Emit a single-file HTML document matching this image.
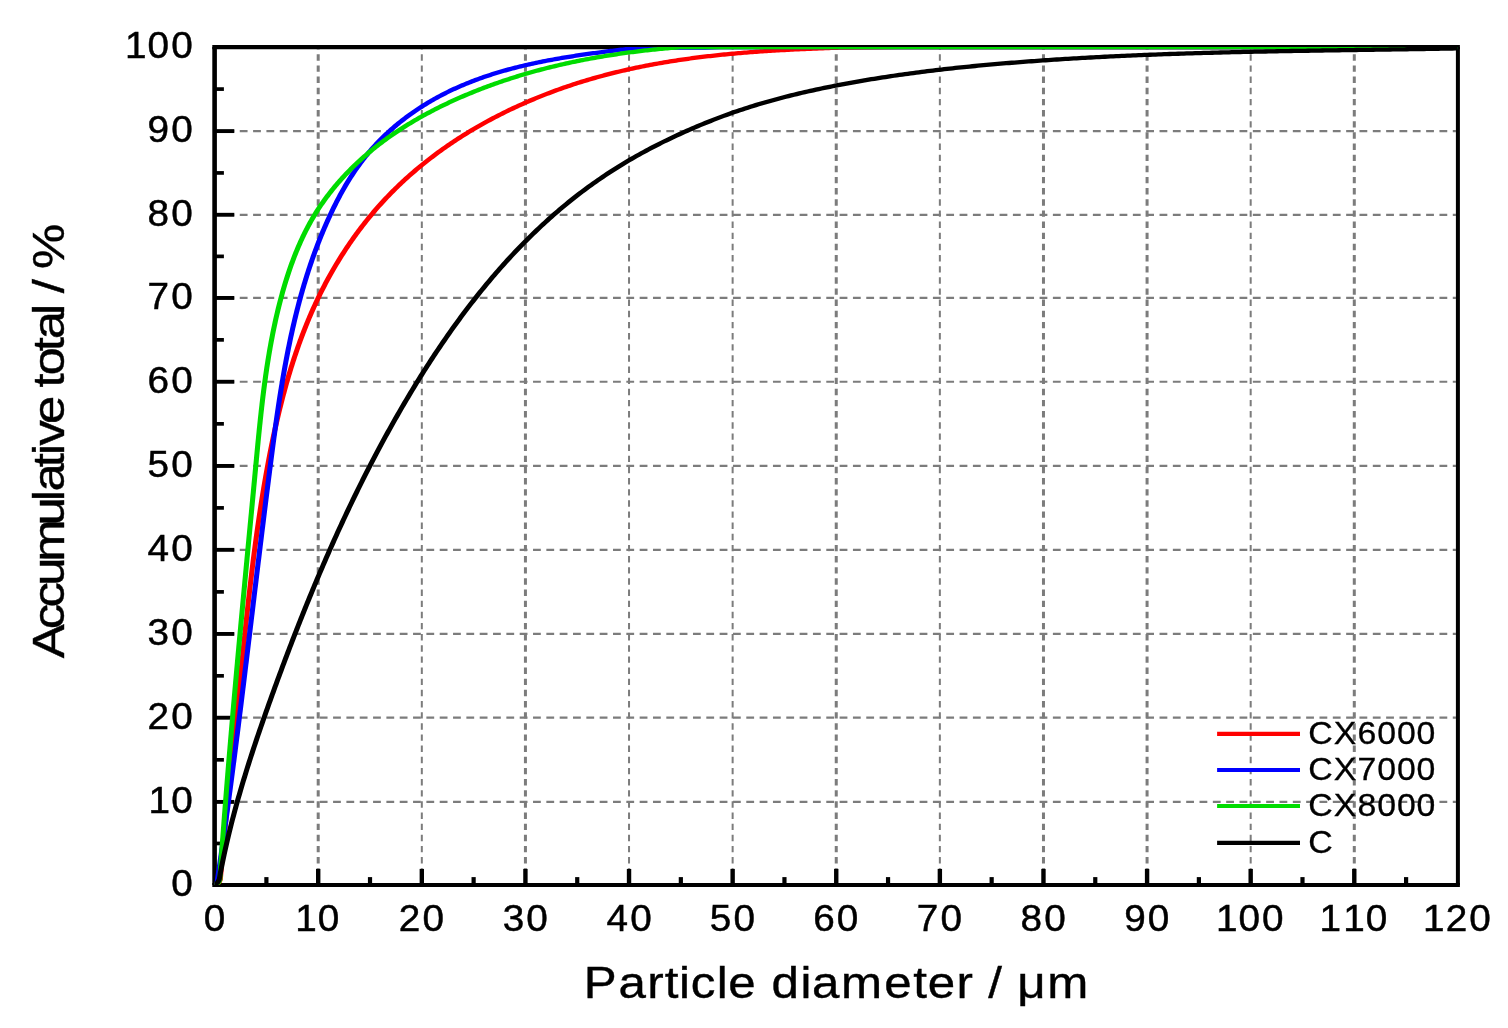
<!DOCTYPE html>
<html lang="en"><head><meta charset="utf-8"><title>Particle size distribution</title>
<style>
html,body{margin:0;padding:0;background:#fff;}
body{width:1508px;height:1028px;overflow:hidden;}
svg{display:block;}
text{font-family:"Liberation Sans","DejaVu Sans",sans-serif;fill:#000;}
</style></head><body>
<svg width="1508" height="1028" viewBox="0 0 1508 1028">
<rect x="0" y="0" width="1508" height="1028" fill="#fff"/>
<g stroke="#7c7c7c" fill="none">
<line x1="318.21" y1="885.80" x2="318.21" y2="47.10" stroke-width="3.0" stroke-dasharray="6.4 4.75"/>
<line x1="421.82" y1="885.80" x2="421.82" y2="47.10" stroke-width="2.0" stroke-dasharray="6.4 4.75"/>
<line x1="525.43" y1="885.80" x2="525.43" y2="47.10" stroke-width="3.0" stroke-dasharray="6.4 4.75"/>
<line x1="629.03" y1="885.80" x2="629.03" y2="47.10" stroke-width="2.0" stroke-dasharray="6.4 4.75"/>
<line x1="732.64" y1="885.80" x2="732.64" y2="47.10" stroke-width="2.0" stroke-dasharray="6.4 4.75"/>
<line x1="836.25" y1="885.80" x2="836.25" y2="47.10" stroke-width="3.0" stroke-dasharray="6.4 4.75"/>
<line x1="939.86" y1="885.80" x2="939.86" y2="47.10" stroke-width="2.0" stroke-dasharray="6.4 4.75"/>
<line x1="1043.47" y1="885.80" x2="1043.47" y2="47.10" stroke-width="3.0" stroke-dasharray="6.4 4.75"/>
<line x1="1147.08" y1="885.80" x2="1147.08" y2="47.10" stroke-width="3.0" stroke-dasharray="6.4 4.75"/>
<line x1="1250.68" y1="885.80" x2="1250.68" y2="47.10" stroke-width="2.0" stroke-dasharray="6.4 4.75"/>
<line x1="1354.29" y1="885.80" x2="1354.29" y2="47.10" stroke-width="3.0" stroke-dasharray="6.4 4.75"/>
<line x1="213.10" y1="801.91" x2="1455.90" y2="801.91" stroke-width="2.2" stroke-dasharray="7.8 5.53"/>
<line x1="213.10" y1="717.72" x2="1455.90" y2="717.72" stroke-width="2.2" stroke-dasharray="7.8 5.53"/>
<line x1="213.10" y1="633.93" x2="1455.90" y2="633.93" stroke-width="2.2" stroke-dasharray="7.8 5.53"/>
<line x1="213.10" y1="549.84" x2="1455.90" y2="549.84" stroke-width="2.2" stroke-dasharray="7.8 5.53"/>
<line x1="213.10" y1="465.95" x2="1455.90" y2="465.95" stroke-width="2.2" stroke-dasharray="7.8 5.53"/>
<line x1="213.10" y1="381.76" x2="1455.90" y2="381.76" stroke-width="2.2" stroke-dasharray="7.8 5.53"/>
<line x1="213.10" y1="297.97" x2="1455.90" y2="297.97" stroke-width="2.2" stroke-dasharray="7.8 5.53"/>
<line x1="213.10" y1="214.78" x2="1455.90" y2="214.78" stroke-width="2.2" stroke-dasharray="7.8 5.53"/>
<line x1="213.10" y1="131.09" x2="1455.90" y2="131.09" stroke-width="2.2" stroke-dasharray="7.8 5.53"/>
</g>
<g stroke="#000" fill="none" stroke-linecap="butt">
<line x1="212.30" y1="47.10" x2="1459.90" y2="47.10" stroke-width="4.20"/>
<line x1="212.30" y1="885.00" x2="1459.90" y2="885.00" stroke-width="4.20"/>
<line x1="214.60" y1="47.10" x2="214.60" y2="885.00" stroke-width="4.60"/>
<line x1="1457.90" y1="47.10" x2="1457.90" y2="885.00" stroke-width="4.00"/>
<line x1="266.40" y1="885.00" x2="266.40" y2="877.10" stroke-width="4.20"/>
<line x1="318.21" y1="885.00" x2="318.21" y2="868.90" stroke-width="4.40"/>
<line x1="370.01" y1="885.00" x2="370.01" y2="877.10" stroke-width="4.20"/>
<line x1="421.82" y1="885.00" x2="421.82" y2="868.90" stroke-width="4.40"/>
<line x1="473.62" y1="885.00" x2="473.62" y2="877.10" stroke-width="4.20"/>
<line x1="525.43" y1="885.00" x2="525.43" y2="868.90" stroke-width="4.40"/>
<line x1="577.23" y1="885.00" x2="577.23" y2="877.10" stroke-width="4.20"/>
<line x1="629.03" y1="885.00" x2="629.03" y2="868.90" stroke-width="4.40"/>
<line x1="680.84" y1="885.00" x2="680.84" y2="877.10" stroke-width="4.20"/>
<line x1="732.64" y1="885.00" x2="732.64" y2="868.90" stroke-width="4.40"/>
<line x1="784.45" y1="885.00" x2="784.45" y2="877.10" stroke-width="4.20"/>
<line x1="836.25" y1="885.00" x2="836.25" y2="868.90" stroke-width="4.40"/>
<line x1="888.05" y1="885.00" x2="888.05" y2="877.10" stroke-width="4.20"/>
<line x1="939.86" y1="885.00" x2="939.86" y2="868.90" stroke-width="4.40"/>
<line x1="991.66" y1="885.00" x2="991.66" y2="877.10" stroke-width="4.20"/>
<line x1="1043.47" y1="885.00" x2="1043.47" y2="868.90" stroke-width="4.40"/>
<line x1="1095.27" y1="885.00" x2="1095.27" y2="877.10" stroke-width="4.20"/>
<line x1="1147.08" y1="885.00" x2="1147.08" y2="868.90" stroke-width="4.40"/>
<line x1="1198.88" y1="885.00" x2="1198.88" y2="877.10" stroke-width="4.20"/>
<line x1="1250.68" y1="885.00" x2="1250.68" y2="868.90" stroke-width="4.40"/>
<line x1="1302.49" y1="885.00" x2="1302.49" y2="877.10" stroke-width="4.20"/>
<line x1="1354.29" y1="885.00" x2="1354.29" y2="868.90" stroke-width="4.40"/>
<line x1="1406.10" y1="885.00" x2="1406.10" y2="877.10" stroke-width="4.20"/>
<line x1="214.60" y1="843.46" x2="223.90" y2="843.46" stroke-width="3.70"/>
<line x1="214.60" y1="801.91" x2="234.30" y2="801.91" stroke-width="3.90"/>
<line x1="214.60" y1="759.82" x2="223.90" y2="759.82" stroke-width="3.70"/>
<line x1="214.60" y1="717.72" x2="234.30" y2="717.72" stroke-width="3.90"/>
<line x1="214.60" y1="675.82" x2="223.90" y2="675.82" stroke-width="3.70"/>
<line x1="214.60" y1="633.93" x2="234.30" y2="633.93" stroke-width="3.90"/>
<line x1="214.60" y1="591.88" x2="223.90" y2="591.88" stroke-width="3.70"/>
<line x1="214.60" y1="549.84" x2="234.30" y2="549.84" stroke-width="3.90"/>
<line x1="214.60" y1="507.89" x2="223.90" y2="507.89" stroke-width="3.70"/>
<line x1="214.60" y1="465.95" x2="234.30" y2="465.95" stroke-width="3.90"/>
<line x1="214.60" y1="423.85" x2="223.90" y2="423.85" stroke-width="3.70"/>
<line x1="214.60" y1="381.76" x2="234.30" y2="381.76" stroke-width="3.90"/>
<line x1="214.60" y1="339.87" x2="223.90" y2="339.87" stroke-width="3.70"/>
<line x1="214.60" y1="297.97" x2="234.30" y2="297.97" stroke-width="3.90"/>
<line x1="214.60" y1="256.38" x2="223.90" y2="256.38" stroke-width="3.70"/>
<line x1="214.60" y1="214.78" x2="234.30" y2="214.78" stroke-width="3.90"/>
<line x1="214.60" y1="172.93" x2="223.90" y2="172.93" stroke-width="3.70"/>
<line x1="214.60" y1="131.09" x2="234.30" y2="131.09" stroke-width="3.90"/>
<line x1="214.60" y1="89.09" x2="223.90" y2="89.09" stroke-width="3.70"/>
</g>
<clipPath id="plotclip"><rect x="214.60" y="47.10" width="1243.30" height="837.90"/></clipPath>
<g clip-path="url(#plotclip)"><g transform="scale(1.180,1)" fill="none" stroke-width="4.3" stroke-linejoin="round" stroke-linecap="butt">
<path d="M181.86 885.00 L185.59 882.50 L186.69 879.50 L186.84 877.48 L186.99 875.46 L187.14 873.45 L187.29 871.43 L187.44 869.41 L187.59 867.40 L187.74 865.38 L187.89 863.36 L188.05 861.35 L188.20 859.33 L188.36 857.31 L188.51 855.30 L188.67 853.28 L188.83 851.27 L188.98 849.25 L189.14 847.24 L189.30 845.22 L189.46 843.21 L189.62 841.19 L189.78 839.18 L189.94 837.17 L190.11 835.15 L190.27 833.14 L190.43 831.13 L190.60 829.11 L190.76 827.10 L190.93 825.09 L191.09 823.07 L191.26 821.06 L191.42 819.05 L191.59 817.04 L191.76 815.03 L191.93 813.01 L192.10 811.00 L192.26 808.99 L192.43 806.98 L192.60 804.97 L192.77 802.96 L192.94 800.95 L193.12 798.94 L193.29 796.92 L193.46 794.91 L193.63 792.90 L193.80 790.89 L193.98 788.88 L194.15 786.87 L194.32 784.86 L194.50 782.86 L194.67 780.85 L194.84 778.84 L195.02 776.83 L195.19 774.82 L195.37 772.81 L195.54 770.80 L195.72 768.79 L195.89 766.78 L196.07 764.77 L196.25 762.77 L196.42 760.76 L196.60 758.75 L196.77 756.74 L196.95 754.73 L197.13 752.73 L197.30 750.72 L197.48 748.71 L197.66 746.70 L197.84 744.70 L198.01 742.69 L198.19 740.68 L198.37 738.68 L198.54 736.67 L198.72 734.66 L198.90 732.66 L199.08 730.65 L199.25 728.64 L199.43 726.64 L199.61 724.63 L199.78 722.62 L199.96 720.62 L200.14 718.61 L200.32 716.61 L200.49 714.60 L200.67 712.59 L200.85 710.59 L201.02 708.58 L201.20 706.58 L201.37 704.57 L201.55 702.57 L201.73 700.56 L201.90 698.55 L202.08 696.55 L202.25 694.54 L202.43 692.54 L202.60 690.53 L202.78 688.53 L202.95 686.52 L203.12 684.52 L203.30 682.51 L203.47 680.51 L203.65 678.50 L203.82 676.50 L203.99 674.49 L204.17 672.49 L204.34 670.49 L204.51 668.48 L204.69 666.48 L204.86 664.47 L205.03 662.47 L205.21 660.46 L205.38 658.46 L205.55 656.45 L205.73 654.45 L205.90 652.45 L206.08 650.44 L206.25 648.44 L206.43 646.43 L206.60 644.43 L206.78 642.43 L206.96 640.42 L207.13 638.42 L207.31 636.42 L207.49 634.41 L207.67 632.41 L207.84 630.41 L208.02 628.40 L208.20 626.40 L208.38 624.40 L208.56 622.39 L208.75 620.39 L208.93 618.39 L209.11 616.38 L209.30 614.38 L209.48 612.38 L209.67 610.38 L209.85 608.37 L210.04 606.37 L210.23 604.37 L210.41 602.37 L210.60 600.36 L210.79 598.36 L210.99 596.36 L211.18 594.36 L211.37 592.35 L211.57 590.35 L211.76 588.35 L211.96 586.35 L212.16 584.35 L212.35 582.34 L212.55 580.34 L212.76 578.34 L212.96 576.34 L213.16 574.34 L213.37 572.34 L213.57 570.33 L213.78 568.33 L213.99 566.33 L214.20 564.33 L214.41 562.33 L214.62 560.33 L214.84 558.33 L215.06 556.33 L215.27 554.33 L215.49 552.33 L215.71 550.32 L215.94 548.32 L216.16 546.32 L216.38 544.32 L216.61 542.32 L216.84 540.32 L217.07 538.32 L217.30 536.32 L217.54 534.32 L217.77 532.32 L218.01 530.32 L218.25 528.32 L218.49 526.32 L218.74 524.32 L218.98 522.32 L219.23 520.32 L219.48 518.32 L219.73 516.33 L219.98 514.33 L220.24 512.33 L220.49 510.33 L220.75 508.33 L221.02 506.33 L221.28 504.33 L221.54 502.33 L221.81 500.33 L222.08 498.33 L222.36 496.34 L222.63 494.34 L222.91 492.34 L223.19 490.34 L223.47 488.34 L223.75 486.34 L224.04 484.35 L224.33 482.35 L224.62 480.35 L224.92 478.35 L225.21 476.36 L225.51 474.36 L225.81 472.36 L226.12 470.36 L226.43 468.37 L226.74 466.37 L227.05 464.37 L227.36 462.37 L227.68 460.38 L228.00 458.38 L228.33 456.38 L228.65 454.39 L228.98 452.39 L229.32 450.40 L229.65 448.40 L229.99 446.41 L230.33 444.41 L230.68 442.42 L231.03 440.43 L231.38 438.44 L231.74 436.44 L232.09 434.45 L232.46 432.46 L232.82 430.48 L233.19 428.49 L233.57 426.50 L233.94 424.51 L234.32 422.53 L234.71 420.55 L235.10 418.56 L235.49 416.58 L235.89 414.60 L236.29 412.62 L236.69 410.64 L237.10 408.67 L237.51 406.69 L237.93 404.72 L238.35 402.75 L238.78 400.78 L239.21 398.81 L239.64 396.84 L240.08 394.87 L240.53 392.91 L240.97 390.95 L241.43 388.99 L241.89 387.03 L242.35 385.07 L242.82 383.12 L243.29 381.16 L243.76 379.21 L244.25 377.26 L244.73 375.32 L245.23 373.37 L245.72 371.43 L246.23 369.49 L246.73 367.55 L247.25 365.62 L247.77 363.69 L248.29 361.75 L248.82 359.83 L249.35 357.90 L249.89 355.98 L250.44 354.06 L250.99 352.14 L251.55 350.23 L252.11 348.31 L252.68 346.40 L253.25 344.50 L253.84 342.59 L254.42 340.69 L255.01 338.80 L255.61 336.90 L256.22 335.01 L256.83 333.12 L257.45 331.24 L258.07 329.35 L258.70 327.48 L259.34 325.60 L259.98 323.73 L260.63 321.86 L261.28 319.99 L261.95 318.13 L262.61 316.27 L263.29 314.42 L263.97 312.57 L264.66 310.72 L265.36 308.88 L266.06 307.04 L266.77 305.20 L267.49 303.37 L268.21 301.54 L268.94 299.72 L269.68 297.90 L270.42 296.08 L271.18 294.27 L271.94 292.46 L272.70 290.66 L273.48 288.86 L274.26 287.06 L275.05 285.27 L275.84 283.48 L276.65 281.70 L277.46 279.92 L278.27 278.15 L279.10 276.38 L279.93 274.62 L280.77 272.86 L281.62 271.11 L282.47 269.36 L283.33 267.62 L284.20 265.88 L285.07 264.15 L285.95 262.42 L286.84 260.70 L287.74 258.98 L288.64 257.27 L289.55 255.57 L290.47 253.87 L291.39 252.17 L292.32 250.48 L293.26 248.80 L294.21 247.13 L295.16 245.45 L296.12 243.79 L297.08 242.13 L298.06 240.48 L299.04 238.83 L300.03 237.19 L301.02 235.56 L302.02 233.93 L303.03 232.31 L304.05 230.70 L305.07 229.09 L306.10 227.49 L307.14 225.90 L308.18 224.31 L309.23 222.73 L310.29 221.16 L311.35 219.59 L312.42 218.03 L313.50 216.48 L314.59 214.93 L315.68 213.40 L316.78 211.87 L317.88 210.34 L319.00 208.83 L320.12 207.32 L321.24 205.82 L322.38 204.33 L323.52 202.85 L324.67 201.37 L325.82 199.90 L326.98 198.44 L328.15 196.99 L329.32 195.54 L330.51 194.10 L331.69 192.68 L332.89 191.25 L334.09 189.84 L335.30 188.43 L336.51 187.04 L337.73 185.65 L338.96 184.26 L340.19 182.89 L341.43 181.52 L342.68 180.16 L343.93 178.81 L345.19 177.47 L346.45 176.13 L347.72 174.81 L349.00 173.49 L350.28 172.18 L351.57 170.87 L352.86 169.57 L354.16 168.29 L355.47 167.00 L356.78 165.73 L358.10 164.47 L359.42 163.21 L360.75 161.96 L362.08 160.71 L363.42 159.48 L364.77 158.25 L366.12 157.03 L367.48 155.82 L368.84 154.62 L370.20 153.42 L371.58 152.23 L372.95 151.05 L374.33 149.88 L375.72 148.71 L377.11 147.55 L378.51 146.40 L379.91 145.26 L381.32 144.12 L382.73 143.00 L384.15 141.87 L385.57 140.76 L387.00 139.66 L388.43 138.56 L389.87 137.47 L391.31 136.39 L392.75 135.31 L394.20 134.24 L395.66 133.18 L397.11 132.13 L398.58 131.09 L400.04 130.05 L401.52 129.02 L402.99 128.00 L404.47 126.98 L405.96 125.98 L407.44 124.98 L408.94 123.98 L410.43 123.00 L411.93 122.02 L413.44 121.05 L414.95 120.09 L416.46 119.13 L417.97 118.19 L419.49 117.25 L421.02 116.31 L422.54 115.39 L424.07 114.47 L425.61 113.56 L427.15 112.66 L428.69 111.76 L430.23 110.87 L431.78 109.99 L433.33 109.12 L434.89 108.25 L436.44 107.39 L438.00 106.54 L439.57 105.69 L441.14 104.86 L442.71 104.03 L444.28 103.20 L445.86 102.39 L447.44 101.58 L449.02 100.78 L450.60 99.99 L452.19 99.20 L453.78 98.42 L455.38 97.65 L456.97 96.89 L458.57 96.13 L460.17 95.38 L461.78 94.64 L463.38 93.90 L464.99 93.17 L466.60 92.45 L468.21 91.74 L469.83 91.03 L471.45 90.33 L473.07 89.64 L474.69 88.96 L476.32 88.28 L477.94 87.61 L479.57 86.94 L481.20 86.29 L482.83 85.64 L484.47 85.00 L486.11 84.36 L487.74 83.73 L489.38 83.11 L491.02 82.50 L492.67 81.89 L494.31 81.29 L495.96 80.70 L497.61 80.11 L499.26 79.54 L500.91 78.97 L502.56 78.40 L504.21 77.84 L505.87 77.29 L507.53 76.75 L509.18 76.22 L510.84 75.69 L512.50 75.16 L514.16 74.65 L515.83 74.14 L517.49 73.64 L519.15 73.14 L520.82 72.65 L522.49 72.17 L524.15 71.70 L525.82 71.23 L527.49 70.77 L529.17 70.31 L530.84 69.86 L532.51 69.42 L534.19 68.98 L535.86 68.55 L537.54 68.12 L539.21 67.70 L540.89 67.29 L542.57 66.88 L544.25 66.48 L545.93 66.09 L547.62 65.70 L549.30 65.31 L550.98 64.94 L552.67 64.56 L554.35 64.20 L556.04 63.84 L557.73 63.48 L559.41 63.13 L561.10 62.79 L562.79 62.45 L564.48 62.11 L566.17 61.78 L567.87 61.46 L569.56 61.14 L571.25 60.83 L572.95 60.52 L574.64 60.22 L576.33 59.92 L578.03 59.63 L579.73 59.34 L581.42 59.05 L583.12 58.78 L584.82 58.50 L586.52 58.23 L588.22 57.97 L589.92 57.71 L591.62 57.45 L593.32 57.20 L595.02 56.95 L596.72 56.71 L598.42 56.47 L600.13 56.24 L601.83 56.01 L603.53 55.78 L605.24 55.56 L606.94 55.34 L608.65 55.13 L610.35 54.92 L612.06 54.71 L613.76 54.51 L615.47 54.31 L617.17 54.12 L618.88 53.93 L620.59 53.74 L622.29 53.56 L624.00 53.38 L625.71 53.20 L627.41 53.03 L629.12 52.86 L630.83 52.69 L632.54 52.53 L634.25 52.37 L635.95 52.21 L637.66 52.06 L639.37 51.91 L641.08 51.76 L642.79 51.61 L644.50 51.47 L646.21 51.33 L647.91 51.20 L649.62 51.06 L651.33 50.93 L653.04 50.81 L654.75 50.68 L656.46 50.56 L658.17 50.44 L659.87 50.32 L661.58 50.21 L663.29 50.09 L665.00 49.98 L666.71 49.88 L668.41 49.77 L670.12 49.67 L671.83 49.56 L673.54 49.46 L675.24 49.37 L676.95 49.27 L678.66 49.18 L680.36 49.09 L682.07 49.00 L683.77 48.91 L685.48 48.82 L687.18 48.74 L688.89 48.65 L690.59 48.57 L692.30 48.49 L694.00 48.41 L695.70 48.34 L697.41 48.26 L699.11 48.19 L700.81 48.11 L702.51 48.04 L704.21 47.97 L705.91 47.90 L707.61 47.83 L709.31 47.76 L711.01 47.70 L712.71 47.63 L714.40 47.56 L716.10 47.50 L762.71 47.10 L1235.51 47.10" stroke="#ff0000"/>
<path d="M181.86 885.00 L183.56 882.50 L184.32 879.50 L184.54 877.76 L184.76 876.02 L184.97 874.28 L185.19 872.54 L185.41 870.80 L185.62 869.06 L185.84 867.32 L186.05 865.58 L186.27 863.84 L186.48 862.10 L186.69 860.36 L186.91 858.62 L187.12 856.88 L187.33 855.14 L187.54 853.40 L187.75 851.67 L187.96 849.93 L188.17 848.19 L188.38 846.45 L188.59 844.71 L188.80 842.97 L189.00 841.24 L189.21 839.50 L189.42 837.76 L189.62 836.02 L189.83 834.29 L190.04 832.55 L190.24 830.81 L190.44 829.07 L190.65 827.34 L190.85 825.60 L191.06 823.86 L191.26 822.13 L191.46 820.39 L191.66 818.66 L191.86 816.92 L192.07 815.18 L192.27 813.45 L192.47 811.71 L192.67 809.98 L192.87 808.24 L193.06 806.50 L193.26 804.77 L193.46 803.03 L193.66 801.30 L193.86 799.56 L194.05 797.83 L194.25 796.09 L194.45 794.36 L194.64 792.62 L194.84 790.89 L195.03 789.15 L195.23 787.42 L195.42 785.68 L195.62 783.95 L195.81 782.22 L196.01 780.48 L196.20 778.75 L196.39 777.01 L196.58 775.28 L196.78 773.55 L196.97 771.81 L197.16 770.08 L197.35 768.34 L197.54 766.61 L197.73 764.88 L197.92 763.14 L198.11 761.41 L198.30 759.68 L198.49 757.94 L198.68 756.21 L198.87 754.48 L199.06 752.74 L199.25 751.01 L199.44 749.28 L199.62 747.54 L199.81 745.81 L200.00 744.08 L200.19 742.35 L200.37 740.61 L200.56 738.88 L200.74 737.15 L200.93 735.42 L201.12 733.68 L201.30 731.95 L201.49 730.22 L201.67 728.48 L201.86 726.75 L202.04 725.02 L202.22 723.29 L202.41 721.56 L202.59 719.82 L202.78 718.09 L202.96 716.36 L203.14 714.63 L203.33 712.89 L203.51 711.16 L203.69 709.43 L203.87 707.70 L204.06 705.97 L204.24 704.23 L204.42 702.50 L204.60 700.77 L204.78 699.04 L204.96 697.30 L205.14 695.57 L205.33 693.84 L205.51 692.11 L205.69 690.38 L205.87 688.64 L206.05 686.91 L206.23 685.18 L206.41 683.45 L206.59 681.72 L206.77 679.99 L206.95 678.25 L207.13 676.52 L207.31 674.79 L207.49 673.06 L207.66 671.33 L207.84 669.59 L208.02 667.86 L208.20 666.13 L208.38 664.40 L208.56 662.66 L208.74 660.93 L208.92 659.20 L209.09 657.47 L209.27 655.74 L209.45 654.00 L209.63 652.27 L209.81 650.54 L209.98 648.81 L210.16 647.08 L210.34 645.34 L210.52 643.61 L210.69 641.88 L210.87 640.15 L211.05 638.41 L211.23 636.68 L211.40 634.95 L211.58 633.22 L211.76 631.48 L211.94 629.75 L212.11 628.02 L212.29 626.29 L212.47 624.55 L212.65 622.82 L212.82 621.09 L213.00 619.35 L213.18 617.62 L213.35 615.89 L213.53 614.16 L213.71 612.42 L213.89 610.69 L214.06 608.96 L214.24 607.22 L214.42 605.49 L214.59 603.76 L214.77 602.02 L214.95 600.29 L215.13 598.56 L215.30 596.82 L215.48 595.09 L215.66 593.36 L215.84 591.62 L216.01 589.89 L216.19 588.15 L216.37 586.42 L216.55 584.69 L216.72 582.95 L216.90 581.22 L217.08 579.48 L217.26 577.75 L217.43 576.01 L217.61 574.28 L217.79 572.54 L217.97 570.81 L218.15 569.07 L218.33 567.34 L218.50 565.60 L218.68 563.87 L218.86 562.13 L219.04 560.40 L219.22 558.66 L219.40 556.93 L219.58 555.19 L219.76 553.46 L219.94 551.72 L220.12 549.98 L220.30 548.25 L220.47 546.51 L220.65 544.78 L220.83 543.04 L221.02 541.30 L221.20 539.57 L221.38 537.83 L221.56 536.09 L221.74 534.36 L221.92 532.62 L222.10 530.88 L222.28 529.14 L222.46 527.41 L222.64 525.67 L222.83 523.93 L223.01 522.19 L223.19 520.46 L223.37 518.72 L223.56 516.98 L223.74 515.24 L223.92 513.50 L224.10 511.77 L224.29 510.03 L224.47 508.29 L224.66 506.55 L224.84 504.81 L225.02 503.07 L225.21 501.33 L225.39 499.59 L225.58 497.85 L225.76 496.11 L225.95 494.37 L226.14 492.63 L226.32 490.89 L226.51 489.15 L226.69 487.41 L226.88 485.67 L227.07 483.93 L227.26 482.19 L227.44 480.45 L227.63 478.70 L227.82 476.96 L228.01 475.22 L228.20 473.48 L228.38 471.74 L228.57 470.00 L228.76 468.25 L228.95 466.51 L229.14 464.77 L229.33 463.03 L229.53 461.28 L229.72 459.54 L229.91 457.80 L230.10 456.05 L230.29 454.31 L230.49 452.57 L230.68 450.82 L230.87 449.08 L231.07 447.33 L231.27 445.59 L231.46 443.85 L231.66 442.10 L231.86 440.36 L232.06 438.62 L232.26 436.87 L232.46 435.13 L232.66 433.39 L232.86 431.65 L233.06 429.90 L233.27 428.16 L233.47 426.42 L233.68 424.68 L233.89 422.93 L234.10 421.19 L234.31 419.45 L234.52 417.71 L234.73 415.97 L234.95 414.23 L235.16 412.49 L235.38 410.75 L235.60 409.01 L235.82 407.27 L236.04 405.53 L236.26 403.79 L236.49 402.05 L236.71 400.32 L236.94 398.58 L237.17 396.84 L237.40 395.11 L237.64 393.37 L237.87 391.63 L238.11 389.90 L238.34 388.17 L238.59 386.43 L238.83 384.70 L239.07 382.97 L239.32 381.24 L239.57 379.50 L239.82 377.77 L240.07 376.04 L240.32 374.32 L240.58 372.59 L240.84 370.86 L241.10 369.13 L241.37 367.41 L241.63 365.68 L241.90 363.96 L242.17 362.23 L242.44 360.51 L242.72 358.79 L243.00 357.07 L243.28 355.35 L243.56 353.63 L243.85 351.91 L244.14 350.19 L244.43 348.47 L244.72 346.76 L245.02 345.04 L245.32 343.33 L245.62 341.62 L245.92 339.90 L246.23 338.19 L246.54 336.48 L246.86 334.77 L247.17 333.07 L247.49 331.36 L247.82 329.65 L248.14 327.95 L248.47 326.25 L248.81 324.54 L249.14 322.84 L249.48 321.14 L249.82 319.45 L250.17 317.75 L250.52 316.05 L250.87 314.36 L251.23 312.66 L251.58 310.97 L251.95 309.28 L252.31 307.59 L252.68 305.90 L253.06 304.22 L253.43 302.53 L253.82 300.85 L254.20 299.16 L254.59 297.48 L254.98 295.80 L255.38 294.12 L255.78 292.45 L256.18 290.77 L256.59 289.10 L257.00 287.43 L257.41 285.76 L257.83 284.09 L258.26 282.42 L258.69 280.75 L259.12 279.09 L259.55 277.43 L259.99 275.76 L260.44 274.10 L260.89 272.45 L261.34 270.79 L261.80 269.14 L262.26 267.48 L262.73 265.83 L263.20 264.18 L263.67 262.54 L264.15 260.89 L264.64 259.25 L265.13 257.60 L265.62 255.96 L266.12 254.33 L266.62 252.69 L267.13 251.06 L267.64 249.42 L268.16 247.79 L268.68 246.16 L269.21 244.54 L269.74 242.91 L270.28 241.29 L270.82 239.67 L271.37 238.05 L271.92 236.43 L272.48 234.82 L273.04 233.20 L273.61 231.59 L274.18 229.99 L274.76 228.38 L275.35 226.77 L275.93 225.17 L276.53 223.57 L277.13 221.97 L277.73 220.38 L278.34 218.79 L278.96 217.19 L279.58 215.61 L280.21 214.02 L280.84 212.44 L281.48 210.85 L282.12 209.28 L282.78 207.70 L283.43 206.13 L284.10 204.56 L284.76 202.99 L285.44 201.43 L286.12 199.87 L286.81 198.32 L287.51 196.77 L288.21 195.22 L288.92 193.68 L289.64 192.14 L290.37 190.61 L291.10 189.09 L291.84 187.57 L292.59 186.05 L293.34 184.54 L294.11 183.04 L294.88 181.54 L295.66 180.05 L296.45 178.56 L297.24 177.08 L298.05 175.61 L298.86 174.15 L299.69 172.69 L300.52 171.24 L301.36 169.79 L302.21 168.36 L303.07 166.93 L303.94 165.51 L304.81 164.10 L305.70 162.69 L306.59 161.30 L307.49 159.91 L308.40 158.53 L309.32 157.16 L310.25 155.79 L311.19 154.44 L312.14 153.09 L313.09 151.76 L314.06 150.43 L315.03 149.11 L316.01 147.80 L317.00 146.50 L318.00 145.21 L319.01 143.92 L320.03 142.65 L321.05 141.39 L322.08 140.14 L323.13 138.89 L324.18 137.66 L325.24 136.44 L326.30 135.23 L327.38 134.02 L328.46 132.83 L329.56 131.65 L330.66 130.47 L331.76 129.31 L332.88 128.16 L334.00 127.01 L335.13 125.88 L336.27 124.76 L337.41 123.64 L338.57 122.54 L339.72 121.45 L340.89 120.36 L342.06 119.29 L343.24 118.23 L344.43 117.17 L345.62 116.13 L346.82 115.09 L348.02 114.07 L349.24 113.06 L350.45 112.05 L351.68 111.06 L352.91 110.08 L354.14 109.10 L355.38 108.14 L356.63 107.19 L357.88 106.24 L359.14 105.31 L360.40 104.39 L361.67 103.47 L362.94 102.57 L364.21 101.68 L365.50 100.79 L366.78 99.92 L368.07 99.06 L369.37 98.20 L370.67 97.36 L371.97 96.53 L373.28 95.71 L374.59 94.89 L375.91 94.09 L377.23 93.30 L378.55 92.52 L379.88 91.74 L381.21 90.98 L382.55 90.23 L383.89 89.49 L385.23 88.75 L386.57 88.03 L387.92 87.32 L389.27 86.61 L390.63 85.92 L391.99 85.23 L393.35 84.55 L394.71 83.89 L396.08 83.23 L397.45 82.58 L398.83 81.94 L400.21 81.30 L401.59 80.68 L402.97 80.06 L404.35 79.46 L405.74 78.86 L407.13 78.27 L408.53 77.69 L409.93 77.11 L411.33 76.55 L412.73 75.99 L414.13 75.44 L415.54 74.90 L416.95 74.36 L418.36 73.83 L419.78 73.31 L421.19 72.80 L422.61 72.30 L424.03 71.80 L425.46 71.31 L426.88 70.82 L428.31 70.35 L429.74 69.88 L431.17 69.42 L432.60 68.96 L434.04 68.51 L435.48 68.07 L436.92 67.63 L438.36 67.20 L439.80 66.78 L441.24 66.36 L442.69 65.95 L444.14 65.54 L445.59 65.14 L447.04 64.75 L448.49 64.36 L449.94 63.98 L451.40 63.60 L452.86 63.23 L454.31 62.86 L455.77 62.50 L457.23 62.15 L458.69 61.80 L460.15 61.45 L461.62 61.11 L463.08 60.77 L464.55 60.44 L466.01 60.12 L467.48 59.80 L468.95 59.48 L470.42 59.17 L471.89 58.86 L473.35 58.56 L474.83 58.26 L476.30 57.96 L477.77 57.67 L479.24 57.38 L480.71 57.10 L482.19 56.82 L483.66 56.54 L485.13 56.27 L486.61 56.00 L488.08 55.73 L489.56 55.47 L491.03 55.21 L492.50 54.96 L493.98 54.70 L495.45 54.45 L496.93 54.21 L498.40 53.96 L499.88 53.72 L501.35 53.48 L502.83 53.24 L504.30 53.01 L505.77 52.78 L507.25 52.55 L508.72 52.32 L510.19 52.10 L511.66 51.87 L513.13 51.65 L514.60 51.43 L516.07 51.22 L517.54 51.00 L519.01 50.79 L520.48 50.57 L521.95 50.36 L523.41 50.15 L524.88 49.94 L526.34 49.73 L527.81 49.53 L529.27 49.32 L530.73 49.12 L532.19 48.91 L533.65 48.71 L535.10 48.51 L536.56 48.30 L538.02 48.10 L539.47 47.90 L540.92 47.70 L542.37 47.50 L597.46 47.50 L610.17 47.10 L1235.51 47.10" stroke="#0000ff"/>
<path d="M181.86 885.00 L185.25 882.50 L186.27 879.50 L186.38 877.68 L186.49 875.85 L186.59 874.03 L186.70 872.21 L186.81 870.38 L186.92 868.56 L187.03 866.74 L187.14 864.91 L187.25 863.09 L187.36 861.27 L187.47 859.45 L187.58 857.63 L187.69 855.80 L187.80 853.98 L187.92 852.16 L188.03 850.34 L188.14 848.52 L188.25 846.70 L188.37 844.88 L188.48 843.06 L188.60 841.24 L188.71 839.41 L188.83 837.59 L188.94 835.77 L189.06 833.95 L189.17 832.13 L189.29 830.31 L189.40 828.50 L189.52 826.68 L189.64 824.86 L189.76 823.04 L189.87 821.22 L189.99 819.40 L190.11 817.58 L190.23 815.76 L190.35 813.94 L190.47 812.13 L190.59 810.31 L190.71 808.49 L190.83 806.67 L190.95 804.85 L191.07 803.04 L191.19 801.22 L191.31 799.40 L191.43 797.58 L191.56 795.77 L191.68 793.95 L191.80 792.13 L191.92 790.31 L192.05 788.50 L192.17 786.68 L192.29 784.86 L192.42 783.05 L192.54 781.23 L192.67 779.42 L192.79 777.60 L192.92 775.78 L193.04 773.97 L193.17 772.15 L193.29 770.34 L193.42 768.52 L193.55 766.70 L193.67 764.89 L193.80 763.07 L193.93 761.26 L194.06 759.44 L194.18 757.63 L194.31 755.81 L194.44 754.00 L194.57 752.18 L194.70 750.37 L194.83 748.55 L194.96 746.74 L195.09 744.92 L195.21 743.11 L195.35 741.30 L195.48 739.48 L195.61 737.67 L195.74 735.85 L195.87 734.04 L196.00 732.23 L196.13 730.41 L196.26 728.60 L196.39 726.78 L196.53 724.97 L196.66 723.16 L196.79 721.34 L196.92 719.53 L197.06 717.72 L197.19 715.90 L197.32 714.09 L197.46 712.28 L197.59 710.46 L197.72 708.65 L197.86 706.84 L197.99 705.02 L198.13 703.21 L198.26 701.40 L198.40 699.58 L198.53 697.77 L198.67 695.96 L198.80 694.14 L198.94 692.33 L199.08 690.52 L199.21 688.71 L199.35 686.89 L199.48 685.08 L199.62 683.27 L199.76 681.46 L199.89 679.64 L200.03 677.83 L200.17 676.02 L200.31 674.21 L200.44 672.39 L200.58 670.58 L200.72 668.77 L200.86 666.96 L201.00 665.14 L201.14 663.33 L201.27 661.52 L201.41 659.71 L201.55 657.89 L201.69 656.08 L201.83 654.27 L201.97 652.46 L202.11 650.64 L202.25 648.83 L202.39 647.02 L202.53 645.21 L202.67 643.40 L202.81 641.58 L202.95 639.77 L203.09 637.96 L203.23 636.15 L203.37 634.33 L203.51 632.52 L203.66 630.71 L203.80 628.90 L203.94 627.08 L204.08 625.27 L204.22 623.46 L204.36 621.65 L204.50 619.84 L204.65 618.02 L204.79 616.21 L204.93 614.40 L205.07 612.59 L205.22 610.77 L205.36 608.96 L205.50 607.15 L205.64 605.34 L205.79 603.52 L205.93 601.71 L206.07 599.90 L206.22 598.09 L206.36 596.27 L206.50 594.46 L206.65 592.65 L206.79 590.83 L206.93 589.02 L207.08 587.21 L207.22 585.40 L207.36 583.58 L207.51 581.77 L207.65 579.96 L207.80 578.14 L207.94 576.33 L208.08 574.52 L208.23 572.70 L208.37 570.89 L208.52 569.08 L208.66 567.26 L208.81 565.45 L208.95 563.64 L209.10 561.82 L209.24 560.01 L209.38 558.20 L209.53 556.38 L209.67 554.57 L209.82 552.76 L209.96 550.94 L210.11 549.13 L210.25 547.31 L210.40 545.50 L210.54 543.69 L210.69 541.87 L210.83 540.06 L210.98 538.24 L211.12 536.43 L211.27 534.61 L211.42 532.80 L211.56 530.98 L211.71 529.17 L211.85 527.35 L212.00 525.54 L212.14 523.72 L212.29 521.91 L212.43 520.09 L212.58 518.28 L212.72 516.46 L212.87 514.65 L213.02 512.83 L213.16 511.02 L213.31 509.20 L213.45 507.38 L213.60 505.57 L213.74 503.75 L213.89 501.94 L214.03 500.12 L214.18 498.30 L214.32 496.49 L214.47 494.67 L214.62 492.85 L214.76 491.04 L214.91 489.22 L215.05 487.40 L215.20 485.59 L215.34 483.77 L215.49 481.95 L215.63 480.13 L215.78 478.32 L215.92 476.50 L216.07 474.68 L216.21 472.86 L216.36 471.04 L216.51 469.23 L216.65 467.41 L216.80 465.59 L216.94 463.77 L217.09 461.95 L217.23 460.13 L217.38 458.31 L217.52 456.50 L217.67 454.68 L217.81 452.86 L217.96 451.04 L218.11 449.22 L218.25 447.40 L218.40 445.58 L218.55 443.76 L218.70 441.94 L218.85 440.12 L219.00 438.31 L219.15 436.49 L219.31 434.67 L219.46 432.85 L219.62 431.03 L219.77 429.21 L219.93 427.40 L220.09 425.58 L220.25 423.76 L220.41 421.94 L220.57 420.12 L220.73 418.31 L220.90 416.49 L221.07 414.67 L221.23 412.86 L221.40 411.04 L221.58 409.23 L221.75 407.41 L221.93 405.60 L222.10 403.78 L222.28 401.97 L222.46 400.15 L222.65 398.34 L222.83 396.53 L223.02 394.72 L223.21 392.90 L223.41 391.09 L223.60 389.28 L223.80 387.47 L224.00 385.66 L224.20 383.85 L224.41 382.04 L224.62 380.23 L224.83 378.43 L225.04 376.62 L225.26 374.81 L225.48 373.01 L225.70 371.20 L225.92 369.40 L226.15 367.59 L226.39 365.79 L226.62 363.99 L226.86 362.18 L227.10 360.38 L227.35 358.58 L227.60 356.78 L227.85 354.98 L228.10 353.18 L228.36 351.39 L228.63 349.59 L228.89 347.79 L229.17 346.00 L229.44 344.20 L229.72 342.41 L230.00 340.62 L230.29 338.83 L230.58 337.04 L230.88 335.25 L231.18 333.46 L231.48 331.67 L231.79 329.88 L232.10 328.10 L232.42 326.31 L232.74 324.53 L233.07 322.75 L233.40 320.96 L233.73 319.18 L234.07 317.40 L234.42 315.62 L234.77 313.85 L235.13 312.07 L235.49 310.30 L235.85 308.52 L236.22 306.75 L236.60 304.98 L236.98 303.21 L237.37 301.44 L237.76 299.67 L238.15 297.90 L238.56 296.14 L238.97 294.37 L239.38 292.61 L239.80 290.85 L240.23 289.09 L240.66 287.33 L241.10 285.58 L241.54 283.82 L241.99 282.07 L242.45 280.32 L242.91 278.58 L243.38 276.83 L243.86 275.09 L244.34 273.36 L244.83 271.62 L245.33 269.89 L245.83 268.16 L246.35 266.44 L246.86 264.72 L247.39 263.00 L247.93 261.29 L248.47 259.58 L249.02 257.87 L249.57 256.17 L250.14 254.48 L250.71 252.78 L251.29 251.10 L251.88 249.42 L252.48 247.74 L253.09 246.07 L253.70 244.40 L254.33 242.74 L254.96 241.08 L255.60 239.43 L256.25 237.79 L256.91 236.15 L257.58 234.51 L258.26 232.89 L258.94 231.27 L259.64 229.65 L260.35 228.05 L261.06 226.45 L261.79 224.85 L262.52 223.26 L263.27 221.68 L264.02 220.11 L264.79 218.55 L265.56 216.99 L266.35 215.44 L267.15 213.90 L267.95 212.36 L268.77 210.83 L269.60 209.31 L270.44 207.80 L271.28 206.30 L272.14 204.80 L273.01 203.32 L273.89 201.84 L274.77 200.37 L275.67 198.90 L276.58 197.45 L277.49 196.00 L278.42 194.56 L279.35 193.12 L280.30 191.70 L281.25 190.28 L282.21 188.88 L283.18 187.48 L284.16 186.08 L285.15 184.70 L286.15 183.32 L287.15 181.96 L288.16 180.60 L289.19 179.25 L290.22 177.90 L291.26 176.57 L292.30 175.24 L293.36 173.92 L294.42 172.61 L295.49 171.31 L296.57 170.01 L297.65 168.73 L298.75 167.45 L299.85 166.18 L300.96 164.92 L302.07 163.67 L303.19 162.42 L304.32 161.19 L305.46 159.96 L306.60 158.74 L307.75 157.53 L308.91 156.33 L310.08 155.13 L311.25 153.95 L312.42 152.77 L313.61 151.60 L314.80 150.44 L315.99 149.29 L317.19 148.15 L318.40 147.01 L319.62 145.88 L320.84 144.77 L322.06 143.66 L323.29 142.55 L324.53 141.46 L325.77 140.38 L327.02 139.30 L328.28 138.23 L329.54 137.17 L330.80 136.12 L332.07 135.07 L333.34 134.03 L334.62 133.01 L335.91 131.98 L337.20 130.97 L338.49 129.97 L339.79 128.97 L341.10 127.98 L342.41 127.00 L343.72 126.02 L345.04 125.06 L346.36 124.10 L347.69 123.15 L349.02 122.20 L350.35 121.27 L351.69 120.34 L353.04 119.42 L354.38 118.50 L355.73 117.59 L357.09 116.70 L358.45 115.80 L359.81 114.92 L361.18 114.04 L362.54 113.17 L363.92 112.31 L365.29 111.45 L366.67 110.60 L368.06 109.76 L369.44 108.92 L370.83 108.10 L372.22 107.27 L373.62 106.46 L375.01 105.65 L376.41 104.85 L377.82 104.06 L379.22 103.27 L380.63 102.49 L382.04 101.72 L383.45 100.95 L384.87 100.19 L386.29 99.43 L387.70 98.69 L389.13 97.95 L390.55 97.21 L391.97 96.48 L393.40 95.76 L394.83 95.05 L396.26 94.34 L397.69 93.63 L399.13 92.94 L400.56 92.25 L402.00 91.56 L403.44 90.88 L404.88 90.21 L406.32 89.55 L407.76 88.89 L409.21 88.23 L410.65 87.58 L412.10 86.94 L413.55 86.31 L415.00 85.68 L416.45 85.05 L417.90 84.43 L419.35 83.82 L420.81 83.22 L422.27 82.61 L423.72 82.02 L425.18 81.43 L426.64 80.85 L428.10 80.27 L429.57 79.70 L431.03 79.13 L432.50 78.57 L433.97 78.02 L435.43 77.47 L436.90 76.92 L438.37 76.38 L439.85 75.85 L441.32 75.32 L442.79 74.80 L444.27 74.28 L445.75 73.77 L447.22 73.27 L448.70 72.77 L450.18 72.27 L451.67 71.78 L453.15 71.30 L454.63 70.82 L456.12 70.34 L457.60 69.87 L459.09 69.41 L460.58 68.95 L462.07 68.50 L463.56 68.05 L465.05 67.61 L466.55 67.17 L468.04 66.74 L469.53 66.31 L471.03 65.88 L472.53 65.47 L474.03 65.05 L475.52 64.64 L477.02 64.24 L478.53 63.84 L480.03 63.45 L481.53 63.06 L483.04 62.67 L484.54 62.29 L486.05 61.92 L487.55 61.55 L489.06 61.18 L490.57 60.82 L492.08 60.46 L493.59 60.11 L495.10 59.77 L496.62 59.42 L498.13 59.08 L499.64 58.75 L501.16 58.42 L502.67 58.10 L504.19 57.78 L505.71 57.46 L507.23 57.15 L508.75 56.84 L510.27 56.54 L511.79 56.24 L513.31 55.94 L514.83 55.65 L516.35 55.37 L517.88 55.08 L519.40 54.81 L520.93 54.53 L522.46 54.26 L523.98 54.00 L525.51 53.73 L527.04 53.48 L528.57 53.22 L530.10 52.97 L531.63 52.73 L533.16 52.49 L534.69 52.25 L536.22 52.01 L537.76 51.78 L539.29 51.56 L540.83 51.34 L542.36 51.12 L543.90 50.90 L545.43 50.69 L546.97 50.48 L548.51 50.28 L550.05 50.08 L551.58 49.88 L553.12 49.69 L554.66 49.50 L556.20 49.31 L557.74 49.13 L559.29 48.95 L560.83 48.77 L562.37 48.60 L563.91 48.43 L565.46 48.27 L567.00 48.10 L568.54 47.95 L570.09 47.79 L571.63 47.64 L573.18 47.49 L574.72 47.34 L576.27 47.20 L1235.51 47.10" stroke="#00dc00"/>
<path d="M181.86 885.00 L184.41 882.50 L185.76 879.50 L186.19 876.72 L186.63 873.95 L187.07 871.18 L187.53 868.41 L187.99 865.64 L188.46 862.88 L188.95 860.11 L189.44 857.35 L189.93 854.59 L190.44 851.84 L190.96 849.08 L191.48 846.33 L192.01 843.58 L192.55 840.83 L193.10 838.08 L193.65 835.34 L194.22 832.60 L194.79 829.85 L195.37 827.12 L195.95 824.38 L196.54 821.64 L197.14 818.91 L197.75 816.18 L198.36 813.45 L198.98 810.72 L199.61 807.99 L200.25 805.27 L200.89 802.55 L201.53 799.83 L202.19 797.11 L202.85 794.39 L203.51 791.67 L204.18 788.96 L204.86 786.25 L205.54 783.54 L206.23 780.83 L206.93 778.12 L207.63 775.42 L208.33 772.71 L209.04 770.01 L209.76 767.31 L210.48 764.61 L211.20 761.91 L211.93 759.22 L212.67 756.52 L213.41 753.83 L214.15 751.14 L214.90 748.45 L215.66 745.76 L216.41 743.07 L217.17 740.39 L217.94 737.70 L218.71 735.02 L219.48 732.34 L220.26 729.66 L221.04 726.98 L221.82 724.30 L222.61 721.63 L223.40 718.95 L224.19 716.28 L224.99 713.61 L225.79 710.94 L226.59 708.27 L227.39 705.60 L228.20 702.93 L229.01 700.26 L229.82 697.60 L230.64 694.94 L231.45 692.27 L232.27 689.61 L233.09 686.95 L233.91 684.30 L234.74 681.64 L235.57 678.98 L236.39 676.33 L237.23 673.67 L238.06 671.02 L238.89 668.37 L239.73 665.72 L240.57 663.07 L241.41 660.42 L242.26 657.78 L243.11 655.13 L243.95 652.49 L244.81 649.85 L245.66 647.21 L246.52 644.57 L247.38 641.93 L248.24 639.29 L249.10 636.66 L249.97 634.03 L250.84 631.39 L251.71 628.76 L252.58 626.13 L253.46 623.51 L254.34 620.88 L255.22 618.26 L256.11 615.63 L257.00 613.01 L257.89 610.39 L258.78 607.77 L259.68 605.16 L260.58 602.54 L261.48 599.93 L262.39 597.32 L263.30 594.71 L264.21 592.10 L265.12 589.49 L266.04 586.89 L266.96 584.28 L267.88 581.68 L268.81 579.08 L269.74 576.48 L270.68 573.89 L271.61 571.29 L272.55 568.70 L273.49 566.11 L274.44 563.52 L275.39 560.93 L276.34 558.35 L277.30 555.76 L278.26 553.18 L279.22 550.60 L280.19 548.03 L281.16 545.45 L282.14 542.88 L283.11 540.30 L284.09 537.73 L285.08 535.17 L286.07 532.60 L287.06 530.04 L288.05 527.48 L289.05 524.92 L290.06 522.36 L291.06 519.80 L292.08 517.25 L293.09 514.70 L294.11 512.15 L295.13 509.60 L296.16 507.06 L297.19 504.51 L298.22 501.97 L299.26 499.43 L300.30 496.90 L301.35 494.36 L302.40 491.83 L303.45 489.30 L304.51 486.77 L305.57 484.25 L306.64 481.73 L307.71 479.20 L308.79 476.69 L309.87 474.17 L310.95 471.66 L312.04 469.15 L313.13 466.64 L314.23 464.13 L315.33 461.63 L316.44 459.12 L317.55 456.63 L318.66 454.13 L319.78 451.63 L320.91 449.14 L322.03 446.65 L323.17 444.17 L324.31 441.68 L325.45 439.20 L326.60 436.72 L327.75 434.24 L328.90 431.77 L330.07 429.30 L331.23 426.83 L332.40 424.36 L333.58 421.90 L334.76 419.44 L335.94 416.98 L337.14 414.52 L338.33 412.07 L339.53 409.62 L340.74 407.17 L341.95 404.73 L343.16 402.29 L344.38 399.85 L345.61 397.41 L346.84 394.98 L348.08 392.55 L349.32 390.12 L350.57 387.69 L351.82 385.27 L353.08 382.86 L354.34 380.44 L355.61 378.03 L356.88 375.63 L358.16 373.22 L359.45 370.83 L360.74 368.43 L362.04 366.04 L363.34 363.66 L364.65 361.27 L365.96 358.90 L367.28 356.52 L368.60 354.16 L369.93 351.79 L371.27 349.44 L372.62 347.08 L373.96 344.73 L375.32 342.39 L376.68 340.05 L378.05 337.72 L379.42 335.39 L380.80 333.07 L382.19 330.75 L383.58 328.44 L384.98 326.14 L386.38 323.84 L387.79 321.55 L389.21 319.26 L390.64 316.98 L392.07 314.71 L393.50 312.44 L394.95 310.18 L396.40 307.92 L397.86 305.68 L399.32 303.44 L400.79 301.20 L402.27 298.97 L403.75 296.75 L405.24 294.54 L406.74 292.33 L408.25 290.14 L409.76 287.95 L411.28 285.76 L412.80 283.59 L414.34 281.42 L415.88 279.26 L417.42 277.11 L418.98 274.96 L420.54 272.83 L422.11 270.70 L423.69 268.58 L425.27 266.47 L426.86 264.36 L428.46 262.27 L430.07 260.19 L431.68 258.11 L433.30 256.04 L434.93 253.98 L436.57 251.93 L438.21 249.89 L439.86 247.86 L441.52 245.84 L443.19 243.83 L444.86 241.83 L446.55 239.84 L448.24 237.85 L449.94 235.88 L451.64 233.92 L453.36 231.96 L455.08 230.02 L456.81 228.09 L458.55 226.17 L460.30 224.26 L462.06 222.36 L463.82 220.46 L465.59 218.59 L467.37 216.72 L469.16 214.86 L470.96 213.01 L472.76 211.18 L474.58 209.35 L476.40 207.54 L478.23 205.74 L480.07 203.95 L481.92 202.17 L483.78 200.40 L485.65 198.65 L487.52 196.91 L489.41 195.18 L491.30 193.46 L493.20 191.75 L495.11 190.06 L497.03 188.38 L498.96 186.71 L500.89 185.05 L502.84 183.41 L504.80 181.78 L506.76 180.16 L508.74 178.55 L510.72 176.96 L512.71 175.38 L514.71 173.82 L516.72 172.26 L518.74 170.72 L520.77 169.20 L522.80 167.69 L524.84 166.19 L526.89 164.70 L528.95 163.23 L531.01 161.77 L533.09 160.32 L535.16 158.89 L537.25 157.47 L539.34 156.07 L541.44 154.68 L543.55 153.30 L545.66 151.93 L547.77 150.58 L549.89 149.25 L552.02 147.93 L554.16 146.62 L556.29 145.32 L558.44 144.04 L560.59 142.77 L562.74 141.51 L564.90 140.27 L567.06 139.04 L569.22 137.82 L571.39 136.62 L573.57 135.42 L575.75 134.24 L577.93 133.07 L580.12 131.91 L582.31 130.77 L584.50 129.63 L586.70 128.50 L588.90 127.39 L591.10 126.29 L593.31 125.19 L595.52 124.11 L597.73 123.04 L599.95 121.99 L602.17 120.94 L604.39 119.91 L606.62 118.89 L608.85 117.88 L611.09 116.89 L613.32 115.90 L615.57 114.93 L617.81 113.98 L620.06 113.03 L622.32 112.10 L624.58 111.19 L626.84 110.29 L629.11 109.40 L631.38 108.52 L633.65 107.65 L635.93 106.80 L638.21 105.96 L640.49 105.14 L642.78 104.32 L645.07 103.52 L647.37 102.73 L649.66 101.95 L651.96 101.18 L654.27 100.43 L656.57 99.68 L658.88 98.95 L661.19 98.22 L663.51 97.51 L665.82 96.80 L668.14 96.11 L670.46 95.43 L672.79 94.76 L675.11 94.09 L677.44 93.44 L679.77 92.79 L682.10 92.16 L684.44 91.53 L686.77 90.91 L689.11 90.30 L691.45 89.70 L693.79 89.11 L696.14 88.53 L698.48 87.95 L700.83 87.38 L703.17 86.82 L705.52 86.26 L707.87 85.72 L710.22 85.18 L712.57 84.65 L714.92 84.12 L717.28 83.60 L719.63 83.09 L721.99 82.58 L724.34 82.08 L726.70 81.59 L729.06 81.10 L731.42 80.62 L733.78 80.15 L736.14 79.68 L738.50 79.22 L740.86 78.77 L743.23 78.32 L745.59 77.88 L747.96 77.44 L750.32 77.01 L752.69 76.58 L755.06 76.17 L757.43 75.75 L759.79 75.35 L762.16 74.94 L764.53 74.55 L766.91 74.16 L769.28 73.77 L771.65 73.39 L774.02 73.02 L776.40 72.65 L778.77 72.28 L781.15 71.92 L783.52 71.57 L785.90 71.22 L788.28 70.88 L790.65 70.54 L793.03 70.20 L795.41 69.87 L797.79 69.55 L800.17 69.23 L802.55 68.91 L804.93 68.60 L807.31 68.29 L809.69 67.99 L812.07 67.69 L814.46 67.40 L816.84 67.11 L819.22 66.82 L821.61 66.54 L823.99 66.26 L826.37 65.99 L828.76 65.72 L831.14 65.45 L833.53 65.19 L835.92 64.93 L838.30 64.68 L840.69 64.42 L843.07 64.18 L845.46 63.93 L847.85 63.69 L850.23 63.45 L852.62 63.22 L855.01 62.99 L857.40 62.76 L859.79 62.53 L862.17 62.31 L864.56 62.09 L866.95 61.88 L869.34 61.66 L871.73 61.45 L874.12 61.24 L876.50 61.04 L878.89 60.84 L881.28 60.64 L883.67 60.44 L886.06 60.25 L888.45 60.06 L890.84 59.87 L893.23 59.68 L895.62 59.50 L898.01 59.32 L900.40 59.14 L902.79 58.96 L905.18 58.79 L907.57 58.62 L909.96 58.45 L912.35 58.28 L914.74 58.12 L917.13 57.96 L919.52 57.80 L921.91 57.64 L924.30 57.49 L926.69 57.34 L929.08 57.19 L931.48 57.04 L933.87 56.90 L936.26 56.75 L938.65 56.61 L941.04 56.47 L943.43 56.34 L945.82 56.20 L948.22 56.07 L950.61 55.94 L953.00 55.81 L955.39 55.69 L957.78 55.56 L960.18 55.44 L962.57 55.32 L964.96 55.20 L967.35 55.09 L969.74 54.97 L972.14 54.86 L974.53 54.75 L976.92 54.64 L979.32 54.53 L981.71 54.43 L984.10 54.32 L986.49 54.22 L988.89 54.12 L991.28 54.02 L993.67 53.93 L996.07 53.83 L998.46 53.74 L1000.85 53.64 L1003.25 53.55 L1005.64 53.46 L1008.03 53.38 L1010.43 53.29 L1012.82 53.21 L1015.21 53.12 L1017.61 53.04 L1020.00 52.96 L1022.40 52.88 L1024.79 52.80 L1027.18 52.73 L1029.58 52.65 L1031.97 52.58 L1034.37 52.50 L1036.76 52.43 L1039.15 52.36 L1041.55 52.29 L1043.94 52.22 L1046.34 52.16 L1048.73 52.09 L1051.12 52.03 L1053.52 51.96 L1055.91 51.90 L1058.31 51.84 L1060.70 51.78 L1063.10 51.72 L1065.49 51.66 L1067.89 51.60 L1070.28 51.54 L1072.67 51.49 L1075.07 51.43 L1077.46 51.38 L1079.86 51.33 L1082.25 51.27 L1084.65 51.22 L1087.04 51.17 L1089.44 51.12 L1091.83 51.07 L1094.23 51.02 L1096.62 50.97 L1099.02 50.92 L1101.41 50.87 L1103.81 50.83 L1106.20 50.78 L1108.60 50.73 L1110.99 50.69 L1113.39 50.64 L1115.78 50.60 L1118.18 50.55 L1120.57 50.51 L1122.97 50.47 L1125.36 50.42 L1127.75 50.38 L1130.15 50.34 L1132.54 50.30 L1134.94 50.25 L1137.33 50.21 L1139.73 50.17 L1142.12 50.13 L1144.52 50.09 L1146.91 50.05 L1149.31 50.00 L1151.70 49.96 L1154.10 49.92 L1156.49 49.88 L1158.89 49.84 L1161.28 49.80 L1163.68 49.76 L1166.07 49.72 L1168.47 49.68 L1170.86 49.64 L1173.26 49.59 L1175.65 49.55 L1178.05 49.51 L1180.44 49.47 L1182.84 49.43 L1185.23 49.39 L1187.62 49.34 L1190.02 49.30 L1192.41 49.26 L1194.81 49.21 L1197.20 49.17 L1199.60 49.13 L1201.99 49.08 L1204.39 49.04 L1206.78 48.99 L1209.17 48.94 L1211.57 48.90 L1213.96 48.85 L1216.36 48.80 L1218.75 48.76 L1221.14 48.71 L1223.54 48.66 L1225.93 48.61 L1228.33 48.56 L1230.72 48.50 L1233.11 48.45 L1235.51 48.40" stroke="#000000"/>
</g></g>
<g>
<text transform="translate(214.40,930.90) scale(1.0700,1)" x="-10.07" font-size="36.20" stroke="#000" stroke-width="0.45">0</text>
<text transform="translate(318.01,930.90) scale(1.0700,1)" x="-21.28 -0.19" font-size="36.20" stroke="#000" stroke-width="0.45">10</text>
<text transform="translate(421.62,930.90) scale(1.0700,1)" x="-21.32 0.78" font-size="36.20" stroke="#000" stroke-width="0.45">20</text>
<text transform="translate(525.23,930.90) scale(1.0700,1)" x="-21.10 1.01" font-size="36.20" stroke="#000" stroke-width="0.45">30</text>
<text transform="translate(628.83,930.90) scale(1.0700,1)" x="-20.83 1.28" font-size="36.20" stroke="#000" stroke-width="0.45">40</text>
<text transform="translate(732.44,930.90) scale(1.0700,1)" x="-21.14 0.97" font-size="36.20" stroke="#000" stroke-width="0.45">50</text>
<text transform="translate(836.05,930.90) scale(1.0700,1)" x="-21.33 0.78" font-size="36.20" stroke="#000" stroke-width="0.45">60</text>
<text transform="translate(939.66,930.90) scale(1.0700,1)" x="-21.34 0.77" font-size="36.20" stroke="#000" stroke-width="0.45">70</text>
<text transform="translate(1043.27,930.90) scale(1.0700,1)" x="-21.20 0.91" font-size="36.20" stroke="#000" stroke-width="0.45">80</text>
<text transform="translate(1146.88,930.90) scale(1.0700,1)" x="-21.26 0.85" font-size="36.20" stroke="#000" stroke-width="0.45">90</text>
<text transform="translate(1250.48,930.90) scale(1.0700,1)" x="-32.34 -11.25 10.86" font-size="36.20" stroke="#000" stroke-width="0.45">100</text>
<text transform="translate(1354.09,930.90) scale(1.0700,1)" x="-32.34 -10.23 10.86" font-size="36.20" stroke="#000" stroke-width="0.45">110</text>
<text transform="translate(1457.70,930.90) scale(1.0700,1)" x="-32.34 -11.25 10.86" font-size="36.20" stroke="#000" stroke-width="0.45">120</text>
<text transform="translate(191.20,896.00) scale(1.0700,1)" x="-18.72" font-size="36.20" stroke="#000" stroke-width="0.45">0</text>
<text transform="translate(191.20,813.21) scale(1.0700,1)" x="-39.81 -18.72" font-size="36.20" stroke="#000" stroke-width="0.45">10</text>
<text transform="translate(191.20,729.32) scale(1.0700,1)" x="-40.83 -18.72" font-size="36.20" stroke="#000" stroke-width="0.45">20</text>
<text transform="translate(191.20,645.23) scale(1.0700,1)" x="-40.83 -18.72" font-size="36.20" stroke="#000" stroke-width="0.45">30</text>
<text transform="translate(191.20,561.44) scale(1.0700,1)" x="-40.83 -18.72" font-size="36.20" stroke="#000" stroke-width="0.45">40</text>
<text transform="translate(191.20,477.05) scale(1.0700,1)" x="-40.83 -18.72" font-size="36.20" stroke="#000" stroke-width="0.45">50</text>
<text transform="translate(191.20,393.26) scale(1.0700,1)" x="-40.83 -18.72" font-size="36.20" stroke="#000" stroke-width="0.45">60</text>
<text transform="translate(191.20,309.47) scale(1.0700,1)" x="-40.83 -18.72" font-size="36.20" stroke="#000" stroke-width="0.45">70</text>
<text transform="translate(191.20,226.08) scale(1.0700,1)" x="-40.83 -18.72" font-size="36.20" stroke="#000" stroke-width="0.45">80</text>
<text transform="translate(191.20,142.09) scale(1.0700,1)" x="-40.83 -18.72" font-size="36.20" stroke="#000" stroke-width="0.45">90</text>
<text transform="translate(191.20,58.10) scale(1.0700,1)" x="-61.92 -40.83 -18.72" font-size="36.20" stroke="#000" stroke-width="0.45">100</text>
</g>
<g stroke-width="4.1" fill="none">
<line x1="1217.1" y1="733.9" x2="1300" y2="733.9" stroke="#ff0000"/>
<line x1="1217.1" y1="770.0" x2="1300" y2="770.0" stroke="#0000ff"/>
<line x1="1217.1" y1="806.0" x2="1300" y2="806.0" stroke="#00dc00"/>
<line x1="1217.1" y1="842.9" x2="1300" y2="842.9" stroke="#000000"/>
</g>
<g>
<text transform="translate(1309.90,743.80) scale(1.1060,1)" x="-1.55 21.60 42.99 60.83 78.66 96.49" font-size="30.60" stroke="#000" stroke-width="0.30">CX6000</text>
<text transform="translate(1309.90,779.90) scale(1.1060,1)" x="-1.55 21.60 42.99 60.83 78.66 96.49" font-size="30.60" stroke="#000" stroke-width="0.30">CX7000</text>
<text transform="translate(1309.90,816.00) scale(1.1060,1)" x="-1.55 21.60 42.99 60.83 78.66 96.49" font-size="30.60" stroke="#000" stroke-width="0.30">CX8000</text>
<text transform="translate(1309.90,852.80) scale(1.1060,1)" x="-1.55" font-size="30.60" stroke="#000" stroke-width="0.30">C</text>
</g>
<g>
<text transform="translate(836.40,997.60) scale(1.1050,1)" x="-228.66 -197.27 -171.09 -155.42 -142.35 -131.89 -108.36 -97.90 -71.73 -58.66 -32.48 -22.03 4.15 43.35 69.52 82.60 108.77 124.45 137.52 150.60 163.67 190.79" font-size="44.60" stroke="#000" stroke-width="0.40">Particle diameter / μm</text>
<text transform="translate(64.00,442.00) rotate(-90) scale(1.1400,1)" x="-189.81 -164.36 -145.28 -126.20 -104.98 -73.19 -51.96 -43.49 -22.26 -11.66 -3.18 15.90 37.12 47.72 58.32 79.55 90.15 111.37 119.85 130.45 141.06 151.66" font-size="44.60" stroke="#000" stroke-width="0.40">Accumulative total / %</text>
</g>
</svg>
</body></html>
